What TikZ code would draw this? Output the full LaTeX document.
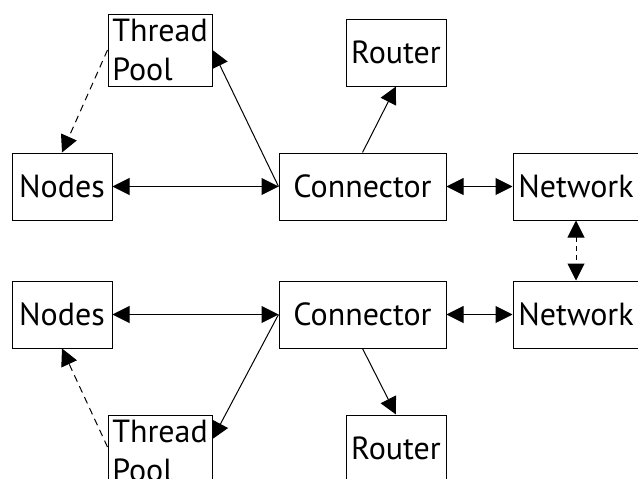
\documentclass[tikz,border=0pt]{standalone}
\usepackage{fontspec}
\setmainfont{PT Sans}
\usetikzlibrary{arrows.meta}
\begin{document}
\begin{tikzpicture}[x=1pt,y=-1pt,
	box/.style={draw,line width=1pt,inner sep=0pt,minimum width=100pt,minimum height=67pt,font=\fontsize{32}{39}\selectfont},
	tip/.style={-{Triangle[length=17pt,width=17pt]}},
	both/.style={{Triangle[length=17pt,width=17pt]}-{Triangle[length=17pt,width=17pt]}},
	link/.style={line width=1pt}]
	\useasboundingbox (0,0) rectangle (638,479);
	\clip (0,0) rectangle (638,479);
	% upper half
	\node[box,minimum width=104pt,minimum height=72pt,align=left] (pool1) at (160,50)   {Thread\\Pool};
	\node[box] (router1) at (396,52.5)  {Router};
	\node[box] (nodes1)  at (62,186.5)  {Nodes};
	\node[box,minimum width=167pt] (conn1) at (362.5,186.5) {Connector};
	\node[box,minimum width=126pt] (net1)  at (576,186.5)   {Network};
	% lower half
	\node[box] (nodes2)  at (62,314.5)  {Nodes};
	\node[box,minimum width=167pt] (conn2) at (362.5,314.5) {Connector};
	\node[box,minimum width=126pt] (net2)  at (576,314.5)   {Network};
	\node[box,minimum width=104pt,minimum height=72pt,align=left] (pool2) at (160,451) {Thread\\Pool};
	\node[box] (router2) at (396,448.5) {Router};
	% connectors
	\draw[link,both] (nodes1.east) -- (conn1.west);
	\draw[link,tip] (conn1.west) -- (pool1.east);
	\draw[link,tip] (conn1.north) -- (router1.south);
	\draw[link,tip,dash pattern=on 7pt off 5pt] (pool1.west) -- (nodes1.north);
	\draw[link,both] (conn1.east) -- (net1.west);
	\draw[link,both,dash pattern=on 5pt off 4pt] (net1.south) -- (net2.north);
	\draw[link,both] (nodes2.east) -- (conn2.west);
	\draw[link,tip] (conn2.west) -- ([yshift=12pt]pool2.east);
	\draw[link,tip] (conn2.south) -- (router2.north);
	\draw[link,tip,dash pattern=on 7pt off 5pt] ([yshift=4pt]pool2.west) -- (nodes2.south);
	\draw[link,both] (conn2.east) -- (net2.west);
\end{tikzpicture}
\end{document}
